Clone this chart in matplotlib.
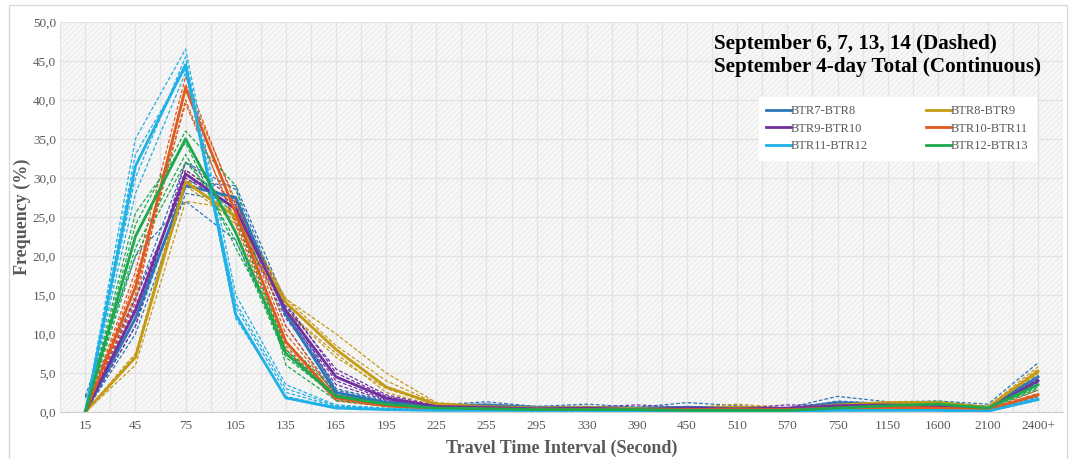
import matplotlib
matplotlib.use('Agg')
import matplotlib.pyplot as plt
from matplotlib.patches import Rectangle
from matplotlib.ticker import FuncFormatter, MultipleLocator

plt.rcParams['font.family'] = ['Liberation Serif', 'DejaVu Serif']
plt.rcParams['hatch.linewidth'] = 0.4

# Intervalos de tiempo de viaje (segundos)
intervals = ['15', '45', '75', '105', '135', '165', '195', '225', '255', '295',
             '330', '390', '450', '510', '570', '750', '1150', '1600', '2100', '2400+']

segments = ['BTR7-BTR8', 'BTR8-BTR9', 'BTR9-BTR10', 'BTR10-BTR11', 'BTR11-BTR12', 'BTR12-BTR13']
colors = ['#2e75b6', '#c49a16', '#7030a0', '#de5a1e', '#1fb0e6', '#1ea84e']

# Totales de los 4 dias (linea continua)
total_btr7 = [0, 12.0, 29.0, 27.5, 12.5, 2.5, 1.2, 0.8, 0.9, 0.6, 0.6, 0.5, 0.6, 0.5, 0.4, 1.2, 1.0, 1.1, 0.6, 4.5]
total_btr8 = [0, 7.0, 29.5, 25.0, 14.0, 8.0, 3.2, 1.0, 0.7, 0.5, 0.6, 0.4, 0.4, 0.6, 0.4, 0.9, 1.2, 1.2, 0.6, 5.2]
total_btr9 = [0, 13.0, 30.5, 26.0, 13.0, 4.5, 1.8, 0.7, 0.6, 0.4, 0.5, 0.3, 0.5, 0.4, 0.5, 0.8, 0.9, 0.8, 0.4, 4.0]
total_btr10 = [0, 16.0, 41.5, 25.5, 9.0, 1.8, 0.8, 0.4, 0.4, 0.3, 0.3, 0.3, 0.3, 0.3, 0.3, 0.5, 0.6, 0.5, 0.3, 2.2]
total_btr11 = [0, 31.5, 44.5, 12.5, 1.8, 0.5, 0.3, 0.2, 0.2, 0.2, 0.2, 0.1, 0.1, 0.1, 0.1, 0.2, 0.2, 0.2, 0.1, 1.6]
total_btr12 = [0, 22.5, 35.0, 23.0, 7.5, 2.0, 1.0, 0.5, 0.4, 0.3, 0.3, 0.3, 0.2, 0.2, 0.2, 0.5, 0.8, 1.0, 0.5, 3.5]

# Dias 6, 7, 13 y 14 (discontinua)
days_btr7 = [
    [1.8, 14.5, 32.0, 28.5, 13.0, 3.0, 1.4, 0.9, 1.3, 0.7, 1.0, 0.6, 1.2, 0.8, 0.5, 2.0, 1.3, 1.4, 1.0, 6.3],
    [0, 10.0, 28.0, 27.0, 11.0, 2.2, 1.0, 0.7, 0.8, 0.5, 0.6, 0.4, 0.5, 0.4, 0.3, 1.0, 0.9, 1.0, 0.5, 3.8],
    [2.0, 20.0, 27.0, 22.0, 8.0, 1.8, 0.9, 0.6, 0.7, 0.5, 0.5, 0.4, 0.4, 0.3, 0.3, 0.9, 0.8, 0.9, 0.5, 4.2],
    [0, 11.0, 29.5, 29.0, 14.0, 2.8, 1.3, 0.9, 1.0, 0.6, 0.7, 0.5, 0.7, 0.5, 0.4, 1.4, 1.1, 1.2, 0.7, 5.0],
]
days_btr8 = [
    [0, 6.0, 27.0, 26.0, 14.5, 10.0, 5.0, 1.2, 0.8, 0.5, 0.7, 0.4, 0.5, 1.0, 0.5, 1.0, 1.3, 1.3, 0.7, 5.8],
    [0, 7.5, 30.0, 24.0, 13.0, 7.0, 3.0, 0.9, 0.6, 0.4, 0.5, 0.3, 0.4, 0.5, 0.3, 0.8, 1.1, 1.1, 0.5, 4.8],
    [0, 7.0, 31.0, 26.5, 14.5, 8.5, 4.0, 1.1, 0.8, 0.5, 0.6, 0.4, 0.4, 0.6, 0.4, 0.9, 1.2, 1.2, 0.6, 5.5],
    [0, 7.2, 29.0, 24.5, 13.0, 7.5, 2.5, 0.8, 0.6, 0.5, 0.6, 0.4, 0.4, 0.7, 0.4, 0.9, 1.1, 1.2, 0.6, 5.0],
]
days_btr9 = [
    [0, 11.0, 32.0, 27.0, 13.5, 5.5, 2.2, 0.8, 0.7, 0.4, 0.6, 0.9, 0.6, 0.5, 0.9, 0.9, 1.0, 0.9, 0.5, 4.5],
    [0, 12.0, 31.0, 26.5, 12.5, 4.0, 1.6, 0.6, 0.5, 0.4, 0.5, 0.3, 0.5, 0.4, 0.4, 0.7, 0.8, 0.7, 0.4, 3.8],
    [0, 14.5, 29.5, 25.0, 12.0, 3.5, 1.5, 0.6, 0.5, 0.3, 0.4, 0.3, 0.4, 0.3, 0.4, 0.7, 0.8, 0.7, 0.4, 3.5],
    [0, 13.5, 30.0, 26.0, 14.0, 5.0, 2.0, 0.7, 0.6, 0.4, 0.5, 0.4, 0.5, 0.4, 0.5, 0.8, 0.9, 0.8, 0.5, 4.2],
]
days_btr10 = [
    [0, 18.0, 43.0, 26.5, 10.0, 2.2, 0.9, 0.5, 0.4, 0.3, 0.3, 0.3, 0.3, 0.3, 0.3, 0.5, 0.6, 0.5, 0.3, 2.8],
    [0, 15.0, 40.0, 24.0, 8.0, 1.5, 0.7, 0.4, 0.3, 0.3, 0.3, 0.2, 0.3, 0.3, 0.2, 0.4, 0.5, 0.5, 0.3, 2.0],
    [0, 14.0, 42.0, 27.0, 11.0, 2.0, 0.8, 0.4, 0.4, 0.3, 0.3, 0.3, 0.3, 0.3, 0.3, 0.5, 0.6, 0.5, 0.3, 2.4],
    [0, 17.0, 39.5, 24.5, 8.5, 1.4, 0.7, 0.3, 0.3, 0.2, 0.3, 0.2, 0.2, 0.2, 0.2, 0.4, 0.5, 0.4, 0.2, 1.9],
]
days_btr11 = [
    [0, 35.0, 46.5, 15.0, 3.5, 0.9, 0.5, 0.3, 0.2, 0.2, 0.2, 0.2, 0.1, 0.1, 0.1, 0.3, 0.3, 0.3, 0.2, 2.0],
    [0, 30.0, 45.5, 13.5, 2.5, 0.7, 0.4, 0.2, 0.2, 0.2, 0.2, 0.1, 0.1, 0.1, 0.1, 0.2, 0.2, 0.2, 0.1, 1.8],
    [0, 28.0, 43.5, 14.0, 3.0, 0.8, 0.4, 0.3, 0.2, 0.2, 0.2, 0.1, 0.1, 0.1, 0.1, 0.2, 0.2, 0.2, 0.1, 1.5],
    [0, 33.0, 44.0, 12.0, 2.0, 0.6, 0.3, 0.2, 0.2, 0.1, 0.1, 0.1, 0.1, 0.1, 0.1, 0.2, 0.2, 0.2, 0.1, 1.7],
]
days_btr12 = [
    [0, 24.0, 36.0, 29.0, 6.0, 1.5, 0.8, 0.4, 0.3, 0.3, 0.3, 0.2, 0.2, 0.2, 0.2, 0.6, 0.9, 1.4, 0.6, 3.0],
    [0, 21.0, 33.0, 22.0, 7.0, 2.0, 1.0, 0.5, 0.4, 0.3, 0.3, 0.3, 0.2, 0.2, 0.2, 0.5, 0.8, 1.0, 0.5, 3.2],
    [0, 20.0, 32.0, 25.0, 8.0, 2.2, 1.1, 0.6, 0.4, 0.3, 0.3, 0.3, 0.2, 0.2, 0.2, 0.5, 0.7, 1.1, 0.5, 2.8],
    [0, 25.5, 34.5, 21.0, 9.0, 2.5, 1.0, 0.5, 0.4, 0.3, 0.3, 0.3, 0.2, 0.2, 0.2, 0.4, 0.8, 1.0, 0.5, 4.0],
]

totals = [total_btr7, total_btr8, total_btr9, total_btr10, total_btr11, total_btr12]
days = [days_btr7, days_btr8, days_btr9, days_btr10, days_btr11, days_btr12]

grey = '#595959'
xpos = list(range(len(intervals)))

fig = plt.figure(figsize=(10.75, 4.59), dpi=100)
fig.patches.append(Rectangle((0.008, -0.01), 0.985, 1.0, transform=fig.transFigure,
                             fill=False, edgecolor='#d9d9d9', linewidth=1.0))
ax = fig.add_axes([0.056, 0.1025, 0.933, 0.85])

# fondo rayado
ax.set_facecolor('#f7f7f7')
ax.add_patch(Rectangle((0, 0), 1, 1, transform=ax.transAxes, facecolor='none',
                       edgecolor='#e2e2e2', hatch='//////', linewidth=0, zorder=0))

for vals_days, col in zip(days, colors):
    for vals in vals_days:
        ax.plot(xpos, vals, color=col, linewidth=0.9, dashes=(3, 1.6), zorder=2)
lines = []
for vals, col, name in zip(totals, colors, segments):
    ln, = ax.plot(xpos, vals, color=col, linewidth=2.0, label=name, zorder=3)
    lines.append(ln)

ax.set_xlim(-0.5, len(intervals) - 0.5)
ax.set_ylim(0, 50)
ax.set_xticks(xpos)
ax.set_xticklabels(intervals)
ax.xaxis.set_minor_locator(MultipleLocator(0.5))
ax.yaxis.set_major_locator(MultipleLocator(5))
ax.yaxis.set_major_formatter(FuncFormatter(lambda v, p: f'{v:.1f}'.replace('.', ',')))
ax.grid(True, which='major', color='#e3e3e3', linewidth=0.9, zorder=1)
ax.grid(True, which='minor', axis='x', color='#e3e3e3', linewidth=0.9, zorder=1)
ax.set_axisbelow(True)
ax.tick_params(which='both', length=0, colors=grey, labelsize=9.5)
ax.tick_params(axis='x', pad=6)
ax.tick_params(axis='y', pad=3)
for s in ['top', 'right', 'left']:
    ax.spines[s].set_visible(False)
ax.spines['bottom'].set_color('#d0d0d0')

ax.set_xlabel('Travel Time Interval (Second)', fontsize=13, fontweight='bold', color=grey, labelpad=5)
ax.set_ylabel('Frequency (%)', fontsize=13, fontweight='bold', color=grey, labelpad=1)

ax.text(0.652, 0.968, 'September 6, 7, 13, 14 (Dashed)\nSeptember 4-day Total (Continuous)',
        transform=ax.transAxes, fontsize=15.2, fontweight='bold', color='black',
        va='top', ha='left', linespacing=1.2)

# leyenda por filas: columna 1 = 7, 9, 11; columna 2 = 8, 10, 12
order = [0, 2, 4, 1, 3, 5]
leg = ax.legend([lines[i] for i in order], [segments[i] for i in order],
                loc='upper left', bbox_to_anchor=(0.69, 0.822), ncol=2, fontsize=9,
                frameon=True, fancybox=False, handlelength=2.0, handletextpad=0.0,
                columnspacing=4.6, labelspacing=0.45, borderpad=0.6)
leg.get_frame().set_edgecolor('white')
leg.get_frame().set_facecolor('white')
leg.get_frame().set_alpha(1)
for t in leg.get_texts():
    t.set_color(grey)

fig.savefig('out.png', dpi=100)
